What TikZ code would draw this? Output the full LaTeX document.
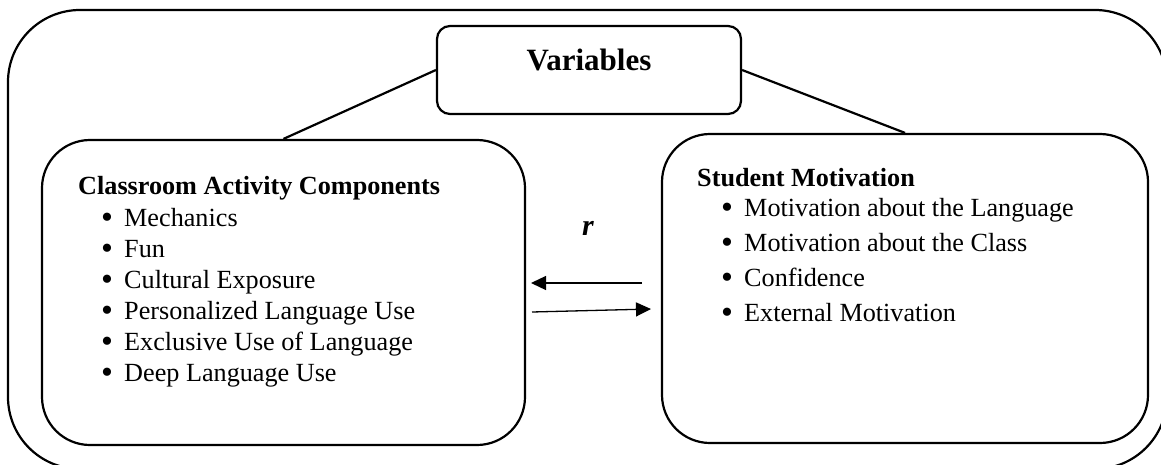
\documentclass[tikz,border=0pt]{standalone}
\usepackage{fontspec}
\setmainfont{Liberation Serif}
\usetikzlibrary{arrows.meta}

\newcommand{\bulletmark}{\makebox[23pt][l]{\raisebox{-2.6pt}[0pt][0pt]{\scalebox{1.3}{\textbullet}}}}

\begin{document}
\begin{tikzpicture}[
    x=1pt, y=-1pt,
    frame/.style={
        draw,
        line width=2.2pt,
        rounded corners=72pt
    },
    group box/.style={
        draw,
        line width=2.2pt,
        rounded corners=48pt,
        inner sep=0pt
    },
    title box/.style={
        draw,
        line width=2.2pt,
        rounded corners=13pt,
        inner sep=0pt,
        minimum width=304pt,
        minimum height=88pt
    },
    heading/.style={
        anchor=base west,
        inner sep=0pt,
        font=\fontsize{26.2}{30}\selectfont\bfseries
    },
    item/.style={
        anchor=base west,
        inner sep=0pt,
        font=\fontsize{26.2}{30}\selectfont
    },
    link/.style={
        line width=2.2pt
    },
    relation/.style={
        -{Triangle[length=15pt,width=14pt]},
        line width=1.3pt
    }
]

\useasboundingbox (0,0) rectangle (1161,465);

\def\leftsep{31}
\def\rightsep{35}

%% --- outer frame ---
\draw[frame] (8,10) rectangle (1167,469);

%% --- title box ---
\node[title box] (vars) at (589,70) {};
\node[inner sep=0pt, font=\fontsize{31}{36}\selectfont\bfseries] (varstext) at (589,60) {Variables};

%% --- the two groups ---
\node[group box, minimum width=483pt, minimum height=305pt] (lbox) at (283.5,292.5) {};
\node[group box, minimum width=486pt, minimum height=309pt] (rbox) at (905,288.5) {};

%% --- classroom activity components ---
\node[heading] (cahead) at (78,194) {Classroom Activity Components};
\foreach \txt [count=\i] in {Mechanics, Fun, Cultural Exposure,
        Personalized Language Use, Exclusive Use of Language, Deep Language Use} {
    \node[item] (ca\i) at (101, 195+\i*\leftsep) {\bulletmark\txt};
}

%% --- student motivation ---
\node[heading] (smhead) at (697,186) {Student Motivation};
\foreach \txt [count=\i] in {Motivation about the Language, Motivation about the Class,
        Confidence, External Motivation} {
    \node[item] (sm\i) at (721, 181+\i*\rightsep) {\bulletmark\txt};
}

%% --- links to the title ---
\draw[link] (lbox.north) -- (vars.west);
\draw[link] (vars.east) -- (rbox.north);

%% --- correlation between the groups ---
\node[inner sep=0pt, font=\fontsize{30}{36}\selectfont\bfseries\itshape] (rel) at (588,228) {r};
\coordinate (backstart) at (642,283);
\coordinate (backend)   at (531,283);
\coordinate (forthstart) at (532,312);
\coordinate (forthend)   at (651,309);
\draw[relation] (backstart) -- (backend);
\draw[relation] (forthstart) -- (forthend);

\end{tikzpicture}
\end{document}
